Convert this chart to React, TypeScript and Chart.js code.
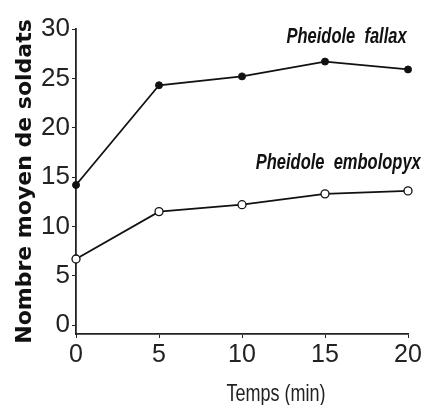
import React, { useEffect, useRef } from "react";
import { Chart, registerables } from "chart.js";

Chart.register(...registerables);

const times = [0, 5, 10, 15, 20];
const fallax = [14.2, 24.3, 25.2, 26.7, 25.9];
const embolopyx = [6.7, 11.5, 12.2, 13.3, 13.6];
const yTicks = [0, 5, 10, 15, 20, 25, 30];
const xTicks = [0, 5, 10, 15, 20];
const seriesLabels = ["Pheidole  fallax", "Pheidole  embolopyx"];
const labelPos = [
  { x: 16.3, y: 29.2 },
  { x: 15.8, y: 16.4 },
];
const xTitle = "Temps (min)";
const yTitle = "Nombre moyen de soldats";

const SANS = "'Liberation Sans', Arial, sans-serif";
const STRETCH = 1.3;

function stretchedText(ctx: any, text: string, x: number, y: number, font: string) {
  ctx.save();
  ctx.font = font;
  ctx.textAlign = "center";
  ctx.textBaseline = "middle";
  ctx.translate(x, y);
  ctx.scale(1, STRETCH);
  ctx.fillText(text, 0, 0);
  ctx.restore();
}

const labelPlugin = {
  id: "seriesLabels",
  afterDatasetsDraw(chart: any) {
    const { ctx, scales, chartArea } = chart;
    ctx.save();
    ctx.fillStyle = "#111";
    seriesLabels.forEach((t, i) => {
      const p = labelPos[i];
      stretchedText(
        ctx,
        t,
        scales.x.getPixelForValue(p.x),
        scales.y.getPixelForValue(p.y),
        "italic bold 16.5px " + SANS
      );
    });
    ctx.fillStyle = "#222";
    stretchedText(ctx, xTitle, scales.x.getPixelForValue(12.05), chartArea.bottom + 61, "18px " + SANS);
    ctx.restore();
  },
};

export default function App() {
  const ref = useRef<HTMLCanvasElement>(null);
  useEffect(() => {
    document.body.style.margin = "0";
    const chart = new Chart(ref.current!, {
      type: "line",
      data: {
        datasets: [
          {
            label: seriesLabels[0],
            data: times.map((t, i) => ({ x: t, y: fallax[i] })),
            borderColor: "#111",
            borderWidth: 1.8,
            pointBackgroundColor: "#111",
            pointBorderColor: "#111",
            pointRadius: 3.5,
            pointBorderWidth: 1,
            clip: false,
          },
          {
            label: seriesLabels[1],
            data: times.map((t, i) => ({ x: t, y: embolopyx[i] })),
            borderColor: "#111",
            borderWidth: 1.8,
            pointBackgroundColor: "#fff",
            pointBorderColor: "#111",
            pointRadius: 4,
            pointBorderWidth: 1.3,
            clip: false,
          },
        ],
      },
      options: {
        responsive: false,
        animation: false,
        layout: { padding: { top: 29, right: 19, bottom: 0, left: 0 } },
        plugins: { legend: { display: false }, tooltip: { enabled: false } },
        scales: {
          x: {
            type: "linear",
            min: 0,
            max: 20,
            afterBuildTicks: (s: any) => {
              s.ticks = xTicks.map((v) => ({ value: v }));
            },
            afterFit: (s: any) => {
              s.height = 71;
            },
            border: { display: true, color: "#222", width: 1.8 },
            grid: { display: true, drawOnChartArea: false, drawTicks: true, tickLength: 4, color: "#222" },
            ticks: {
              color: "#222",
              padding: 2,
              maxRotation: 0,
              font: { family: SANS, size: 25 },
            },
            title: { display: false, text: xTitle },
          },
          y: {
            type: "linear",
            min: -0.9,
            max: 30,
            afterBuildTicks: (s: any) => {
              s.ticks = yTicks.map((v) => ({ value: v }));
            },
            afterFit: (s: any) => {
              s.width = 76;
            },
            border: { display: true, color: "#222", width: 1.8 },
            grid: { display: true, drawOnChartArea: false, drawTicks: true, tickLength: 4, color: "#222" },
            ticks: {
              color: "#222",
              padding: 2,
              font: { family: SANS, size: 26 },
            },
            title: {
              display: true,
              text: yTitle,
              color: "#111",
              font: { family: "'DejaVu Sans', sans-serif", size: 22, weight: "bold" },
              padding: { top: 12, bottom: 0 },
            },
          },
        },
      },
      plugins: [labelPlugin],
    });
    return () => chart.destroy();
  }, []);
  return (
    <div style={{ width: 427, height: 405, background: "#fff" }}>
      <canvas ref={ref} width={427} height={405} />
    </div>
  );
}
